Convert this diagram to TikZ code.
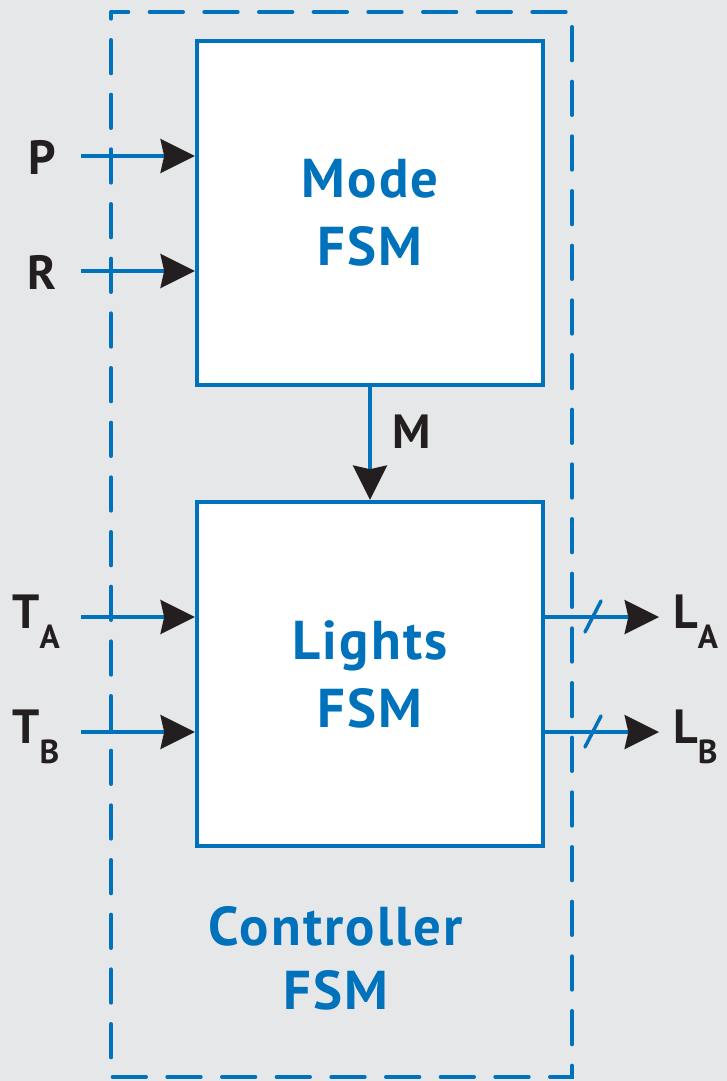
\documentclass[tikz,border=0pt]{standalone}
\usepackage{fontspec}
\setmainfont{PT Sans}
\usetikzlibrary{arrows.meta}
\definecolor{fsmblue}{HTML}{0072BC}
\definecolor{bggray}{HTML}{E6E7E8}
\definecolor{ink}{HTML}{231F20}
\newfontfamily\widefont[LetterSpace=4]{PT Sans}
\tikzset{
  blk/.style={draw=fsmblue, line width=3.2pt, fill=white, minimum width=259.5pt, minimum height=258pt, inner sep=0pt, align=center, font=\widefont\fontsize{41}{51}\selectfont\bfseries, text=fsmblue},
  sig/.style={draw=fsmblue, line width=3pt, -{Stealth[length=26pt, width=26pt, inset=3pt, fill=ink, line width=0pt]}},
  lbl/.style={font=\fontsize{36}{40}\selectfont\bfseries, text=ink, inner sep=0pt},
  bus/.style={draw=fsmblue, line width=2.6pt, line cap=round},
}
\newcommand{\sbs}[1]{\raisebox{-0.42em}{\fontsize{25}{28}\selectfont #1}}
\begin{document}
\begin{tikzpicture}[x=0.75pt, y=-0.75pt]
\fill[bggray] (0,0) rectangle (727,1081);
\useasboundingbox (0,0) rectangle (727,1081);
% controller dashed box
\draw[fsmblue, line width=3pt, line cap=round, dash pattern=on 25pt off 16pt, dash phase=20pt] (111,12) rectangle (572,1077);
\node[blk] (mode) at (370,213) {Mode\\FSM};
\node[blk] (lights) at (370,674) {Lights\\FSM};
\node[font=\widefont\fontsize{41}{48}\selectfont\bfseries, text=fsmblue, align=center] (ctrl) at (336,958) {Controller\\FSM};
% free ends
\coordinate (pin) at (81,156);
\coordinate (rin) at (81,271);
\coordinate (tain) at (81,617);
\coordinate (tbin) at (81,732);
\coordinate (laout) at (659,617);
\coordinate (lbout) at (659,732);
\node[lbl] (P) at (42,157) {P};
\node[lbl] (R) at (42,272) {R};
\node[lbl] (M) at (412,432) {M};
\node[lbl, anchor=base west] (TA) at (12,628) {T\sbs{A}};
\node[lbl, anchor=base west] (TB) at (12,743) {T\sbs{B}};
\node[lbl, anchor=base west] (LA) at (673,628) {L\sbs{A}};
\node[lbl, anchor=base west] (LB) at (673,743) {L\sbs{B}};
\draw[sig] (pin) -- (pin -| mode.west);
\draw[sig] (rin) -- (rin -| mode.west);
\draw[sig] (tain) -- (tain -| lights.west);
\draw[sig] (tbin) -- (tbin -| lights.west);
\draw[sig] (mode.south) -- (lights.north);
\draw[sig] (laout -| lights.east) -- (laout);
\draw[sig] (lbout -| lights.east) -- (lbout);
% bus slashes
\draw[bus] (585,632) -- (601,601);
\draw[bus] (585,747) -- (601,716);
\end{tikzpicture}
\end{document}
